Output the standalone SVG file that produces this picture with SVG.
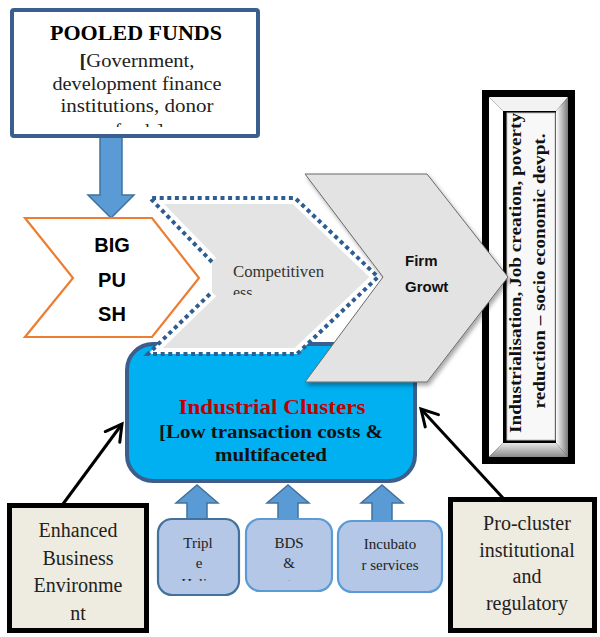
<svg xmlns="http://www.w3.org/2000/svg" width="600" height="637" viewBox="0 0 600 637">
  <style>
    .serif { font-family: "Liberation Serif", "DejaVu Serif", serif; }
    .sans { font-family: "Liberation Sans", Arial, sans-serif; font-weight: bold; }
    .mid { text-anchor: middle; }
    .blockArrow { fill: #5B9BD5; stroke: #41719C; stroke-width: 1.5; }
    .subBox { fill: #B4C7E7; stroke-width: 2.2; }
    .noteBox { fill: #EEEBE0; stroke: #000; stroke-width: 5; }
    .link { fill: none; stroke: #000; stroke-width: 3; }
  </style>
  <defs>
    <marker id="openHead" markerUnits="userSpaceOnUse" viewBox="-20 -11 24 22" refX="0" refY="0" markerWidth="24" markerHeight="22" orient="auto">
      <path d="M-16,-9 L0,0 L-16,9" fill="none" stroke="#000" stroke-width="3" stroke-linecap="round" stroke-linejoin="miter"/>
    </marker>
    <filter id="softShadow" x="-10%" y="-10%" width="130%" height="130%">
      <feDropShadow dx="2" dy="3" stdDeviation="2" flood-color="#000" flood-opacity="0.35"/>
    </filter>
    <linearGradient id="bevelRight" x1="0" y1="0" x2="1" y2="0">
      <stop offset="0" stop-color="#ffffff"/>
      <stop offset="1" stop-color="#7a7a7a"/>
    </linearGradient>
    <linearGradient id="bevelBottom" x1="0" y1="0" x2="0" y2="1">
      <stop offset="0" stop-color="#e8e8e8"/>
      <stop offset="1" stop-color="#8a8a8a"/>
    </linearGradient>
    <clipPath id="clipPool"><rect x="14" y="12" width="242" height="115"/></clipPath>
    <clipPath id="clipComp"><rect x="220" y="250" width="120" height="45"/></clipPath>
    <clipPath id="clipSub"><rect x="150" y="525" width="300" height="56"/></clipPath>
    <clipPath id="clipHex"><polygon points="150,198 295,198 378,277 297,354 148,354 212,292 212,262"/></clipPath>
  </defs>

  <!-- funding arrow into the big push -->
  <g id="arrow-funds">
    <polygon class="blockArrow" points="100,134 122,134 122,195 134,195 111,218 88,195 100,195"/>
  </g>

  <g id="pooled-funds">
    <rect x="12" y="10" width="246" height="126" rx="2" fill="#fff" stroke="#3A5F8F" stroke-width="4"/>
    <text class="serif mid" x="136" y="40" font-size="20" font-weight="bold" textLength="172" lengthAdjust="spacingAndGlyphs">POOLED FUNDS</text>
    <g clip-path="url(#clipPool)" class="serif" font-size="19" fill="#222">
      <text class="mid" x="137" y="67" textLength="115" lengthAdjust="spacingAndGlyphs"><tspan font-weight="bold">[</tspan>Government,</text>
      <text class="mid" x="137" y="89.5" textLength="169" lengthAdjust="spacingAndGlyphs">development finance</text>
      <text class="mid" x="137" y="112" textLength="153" lengthAdjust="spacingAndGlyphs">institutions, donor</text>
      <text class="mid" x="139" y="137">funds]</text>
    </g>
  </g>

  <g id="big-push">
    <polygon points="25,218 152,218 199,278 152,337 25,337 73,278" fill="#fff" stroke="#ED7D31" stroke-width="2.2"/>
    <text class="sans mid" x="112" y="252" font-size="20">BIG</text>
    <text class="sans mid" x="112" y="287" font-size="20">PU</text>
    <text class="sans mid" x="112" y="321" font-size="20">SH</text>
  </g>

  <g id="outcome">
    <rect x="482" y="90" width="93" height="374" fill="#000"/>
    <!-- bevelled frame -->
    <polygon points="489,97 568,97 556,111 503,111" fill="#f2f2f2"/>
    <polygon points="489,97 503,111 503,443 489,457" fill="#ffffff"/>
    <polygon points="568,97 568,457 556,443 556,111" fill="url(#bevelRight)"/>
    <polygon points="489,457 503,443 556,443 568,457" fill="url(#bevelBottom)"/>
    <rect x="507" y="113" width="48" height="327" fill="#f8f8f8" stroke="#c4c4c4" stroke-width="1"/>
    <text class="serif mid" transform="translate(521,273) rotate(-90)" font-size="16" font-weight="bold" fill="#111" textLength="320" lengthAdjust="spacingAndGlyphs">Industrialisation, Job creation, poverty</text>
    <text class="serif mid" transform="translate(545,271) rotate(-90)" font-size="16" font-weight="bold" fill="#111" textLength="275" lengthAdjust="spacingAndGlyphs">reduction – socio economic devpt.</text>
  </g>

  <g id="industrial-clusters">
    <rect x="127" y="344" width="288" height="137" rx="26" fill="#00B0F0" stroke="#3B5E8C" stroke-width="4"/>
    <text class="serif mid" x="272" y="414" font-size="21" font-weight="bold" fill="#C00000" textLength="187" lengthAdjust="spacingAndGlyphs">Industrial Clusters</text>
    <text class="serif mid" x="271" y="438" font-size="18" font-weight="bold" fill="#111" textLength="224" lengthAdjust="spacingAndGlyphs">[Low transaction costs &amp;</text>
    <text class="serif mid" x="271" y="461" font-size="18" font-weight="bold" fill="#111" textLength="112" lengthAdjust="spacingAndGlyphs">multifaceted</text>
  </g>

  <g id="competitiveness">
    <polygon points="150,198 295,198 378,277 297,354 148,354 212,292 212,262" fill="#E4E4E4"/>
    <path d="M212,262 L150,198 L295,198 L378,277 L297,354 L148,354 L212,292" fill="none" stroke="#fff" stroke-width="12" clip-path="url(#clipHex)"/>
    <path d="M212,262 L150,198 L295,198 L378,277 L297,354 L148,354 L212,292" fill="none" stroke="#2F5D91" stroke-width="4" stroke-dasharray="4 3.6"/>
    <g clip-path="url(#clipComp)" class="serif" font-size="16" fill="#333">
      <text x="233" y="277" textLength="91" lengthAdjust="spacingAndGlyphs">Competitiven</text>
      <text x="233" y="298">ess</text>
    </g>
  </g>

  <g id="firm-growth">
    <polygon points="305,174 427,174 508,277 427,382 305,382 383,277" fill="#E3E3E3" stroke="#6a6a6a" stroke-width="1" filter="url(#softShadow)"/>
    <text class="sans" x="405" y="266" font-size="15" fill="#111">Firm</text>
    <text class="sans" x="405" y="292" font-size="15" fill="#111">Growt</text>
  </g>

  <!-- support services feeding the cluster -->
  <g id="arrows-support">
    <polygon class="blockArrow" points="187,519 187,503 176,503 197,485 218,503 207,503 207,519"/>
    <polygon class="blockArrow" points="278,519 278,503 267,503 288,485 309,503 298,503 298,519"/>
    <polygon class="blockArrow" points="372,521 372,503 361,503 382,485 403,503 392,503 392,521"/>
  </g>

  <g id="triple-helix">
    <rect class="subBox" x="158" y="519" width="81" height="76" rx="14" stroke="#41719C"/>
    <g clip-path="url(#clipSub)" class="serif mid" font-size="15" fill="#222">
      <text x="198" y="548">Tripl</text>
      <text x="199" y="568">e</text>
      <text x="198" y="589">Helix</text>
    </g>
  </g>

  <g id="bds">
    <rect class="subBox" x="246" y="519" width="86" height="72" rx="14" stroke="#5B9BD5"/>
    <g clip-path="url(#clipSub)" class="serif mid" font-size="15" fill="#222">
      <text x="289" y="548">BDS</text>
      <text x="289" y="568">&amp;</text>
      <text x="291" y="589">etc.</text>
    </g>
  </g>

  <g id="incubator">
    <rect class="subBox" x="338" y="521" width="104" height="71" rx="14" stroke="#5B9BD5"/>
    <text class="serif mid" x="390" y="549" font-size="15" fill="#222">Incubato</text>
    <text class="serif mid" x="390" y="570" font-size="15" fill="#222">r services</text>
  </g>

  <g id="business-environment">
    <rect class="noteBox" x="9.5" y="505.5" width="137" height="125"/>
    <g class="serif mid" font-size="20" fill="#222">
      <text x="78" y="537">Enhanced</text>
      <text x="78" y="565">Business</text>
      <text x="78" y="592">Environme</text>
      <text x="78" y="620">nt</text>
    </g>
  </g>

  <g id="pro-cluster">
    <rect class="noteBox" x="450.5" y="499.5" width="144" height="131"/>
    <g class="serif mid" font-size="20" fill="#222">
      <text x="527" y="530">Pro-cluster</text>
      <text x="527" y="557">institutional</text>
      <text x="527" y="583">and</text>
      <text x="527" y="610">regulatory</text>
    </g>
  </g>

  <g id="connectors">
    <line class="link" x1="63" y1="504" x2="122" y2="424" marker-end="url(#openHead)"/>
    <line class="link" x1="503" y1="498" x2="421" y2="409" marker-end="url(#openHead)"/>
  </g>
</svg>
